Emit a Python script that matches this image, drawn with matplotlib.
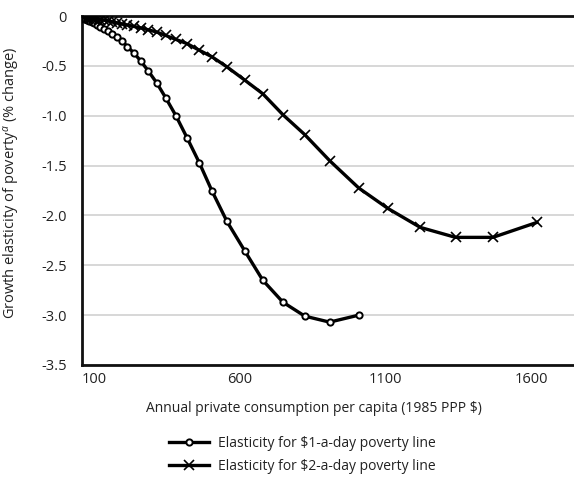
import matplotlib
matplotlib.use("Agg")
import matplotlib.pyplot as plt
from matplotlib.ticker import FixedLocator, FuncFormatter

plt.rcParams['font.family'] = ['Open Sans', 'DejaVu Sans']
plt.rcParams['mathtext.fontset'] = 'custom'
plt.rcParams['mathtext.it'] = 'Open Sans:italic'
plt.rcParams['mathtext.rm'] = 'Open Sans'

# Annual private consumption per capita (1985 PPP $)
consumption = [62, 68, 75, 83, 91, 100, 110, 121, 133, 146, 161, 177, 195, 214,
               236, 259, 285, 314, 345, 380, 418, 460, 503, 555, 617, 678, 747,
               822, 907, 1007, 1107, 1218, 1339, 1467, 1618]

# Growth elasticity of poverty, $1-a-day line (ends at 1007)
elasticity_1 = [-0.02, -0.03, -0.04, -0.05, -0.06, -0.07, -0.09, -0.11, -0.13,
                -0.15, -0.18, -0.21, -0.25, -0.31, -0.37, -0.45, -0.55, -0.67,
                -0.82, -1.00, -1.22, -1.47, -1.75, -2.06, -2.36, -2.65, -2.87,
                -3.01, -3.07, -3.00]

# Growth elasticity of poverty, $2-a-day line
elasticity_2 = [-0.01, -0.013, -0.016, -0.02, -0.024, -0.028, -0.032, -0.037,
                -0.042, -0.047, -0.057, -0.068, -0.08, -0.091, -0.105, -0.119,
                -0.138, -0.161, -0.195, -0.235, -0.277, -0.343, -0.408, -0.51,
                -0.645, -0.78, -0.99, -1.19, -1.45, -1.725, -1.93, -2.12, -2.22,
                -2.22, -2.07]

x_ticks = [100, 600, 1100, 1600]
y_ticks = [0, -0.5, -1.0, -1.5, -2.0, -2.5, -3.0, -3.5]

W, H = 574, 479
TXT = '#222222'
fig = plt.figure(figsize=(W / 100, H / 100), dpi=100)
ax = fig.add_axes([82 / W, (H - 365) / H, (590 - 82) / W, (365 - 16) / H])

ax.plot(consumption[:len(elasticity_1)], elasticity_1, color='black', lw=2.4,
        marker='o', ms=4.5, mfc='white', mec='black', mew=1.4,
        label=r'Elasticity for \$1-a-day poverty line', zorder=3)
ax.plot(consumption[:len(elasticity_2)], elasticity_2, color='black', lw=2.4,
        marker='x', ms=6.5, mew=1.2,
        label=r'Elasticity for \$2-a-day poverty line', zorder=3)

ax.set_xlim(58, 1800)
ax.set_ylim(-3.5, 0)
ax.xaxis.set_major_locator(FixedLocator(x_ticks))
ax.yaxis.set_major_locator(FixedLocator(y_ticks))
ax.yaxis.set_major_formatter(FuncFormatter(lambda v, p: '0' if v == 0 else f'{v:.1f}'))
ax.tick_params(axis='both', length=0, labelsize=10.5, colors=TXT)
ax.tick_params(axis='y', pad=11)
ax.tick_params(axis='x', pad=5)

ax.grid(axis='y', color='#d4d4d4', lw=1.3, zorder=0)
ax.set_axisbelow(True)
for side in ['left', 'bottom', 'top']:
    ax.spines[side].set_linewidth(2.0)
    ax.spines[side].set_color('#111111')
ax.spines['right'].set_visible(False)

fig.text(314 / W, 1 - 408 / H,
         'Annual private consumption per capita (1985 PPP \\$)',
         fontsize=10, color=TXT, ha='center', va='center')
fig.text(12 / W, 1 - 183 / H,
         r'Growth elasticity of poverty$^{\mathit{a}}$ (% change)',
         fontsize=10.5, color=TXT, ha='center', va='center', rotation=90)

fig.legend(loc='upper left', bbox_to_anchor=(162 / W, 1 - 429 / H),
           frameon=False, fontsize=10, handlelength=2.9, handletextpad=0.6,
           labelspacing=0.55, borderpad=0, labelcolor=TXT)

fig.savefig('out.png', dpi=100)
